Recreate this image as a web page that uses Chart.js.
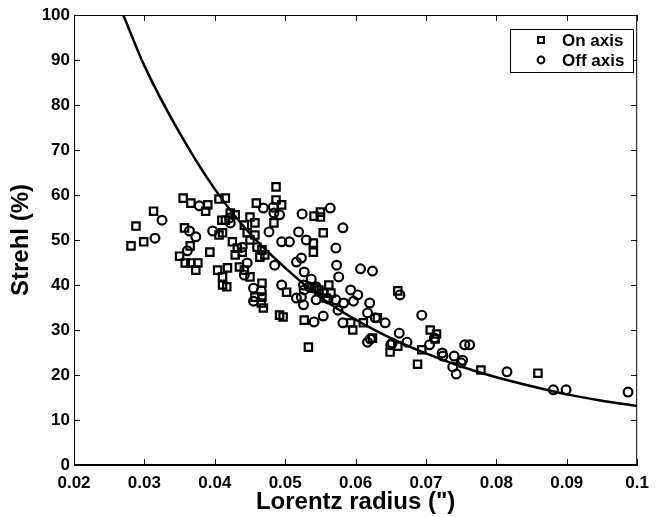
<!DOCTYPE html>
<html>
<head>
<meta charset="utf-8">
<script src="https://cdn.jsdelivr.net/npm/chart.js@4.4.1/dist/chart.umd.min.js"></script>
<style>
  html, body { margin: 0; padding: 0; background: #fff; }
</style>
</head>
<body>
<canvas id="myChart" width="657" height="517"></canvas>
<script>
// tick values
const xTicks = [0.02, 0.03, 0.04, 0.05, 0.06, 0.07, 0.08, 0.09, 0.1];
const xTickLabels = ['0.02', '0.03', '0.04', '0.05', '0.06', '0.07', '0.08', '0.09', '0.1'];
const yTicks = [0, 10, 20, 30, 40, 50, 60, 70, 80, 90, 100];

// On axis (squares)
const onAxisX = [0.0281, 0.0288, 0.0299, 0.0313, 0.0355, 0.0366, 0.0390, 0.0387, 0.0406, 0.0410,
  0.0406, 0.0411, 0.0357, 0.0365, 0.0350, 0.0393, 0.0358, 0.0366, 0.0376, 0.0373,
  0.0404, 0.0411, 0.0411, 0.0415, 0.0422, 0.0429, 0.0415, 0.0450, 0.0457, 0.0442,
  0.0484, 0.0446, 0.0450, 0.0457, 0.0425, 0.0432, 0.0439, 0.0429, 0.0460, 0.0467,
  0.0471, 0.0464, 0.0435, 0.0442, 0.0450, 0.0418, 0.0467, 0.0487, 0.0487, 0.0495,
  0.0459, 0.0541, 0.0550, 0.0550, 0.0554, 0.0540, 0.0540, 0.0502, 0.0492, 0.0497,
  0.0527, 0.0593, 0.0596, 0.0611, 0.0624, 0.0533, 0.0649, 0.0660, 0.0631, 0.0660,
  0.0694, 0.0688, 0.0706, 0.0715, 0.0713, 0.0778, 0.0859, 0.0541, 0.0548, 0.0562,
  0.0565, 0.0555, 0.0558, 0.0417, 0.0457, 0.0467, 0.0466, 0.0469];
const onAxisY = [48.7, 53.1, 49.6, 56.4, 59.3, 58.2, 57.8, 56.4, 59.1, 54.4,
  51.1, 51.6, 52.7, 48.7, 46.4, 47.3, 44.9, 44.9, 44.9, 43.3,
  43.3, 41.8, 40.0, 59.3, 56.0, 55.6, 54.4, 55.1, 53.8, 53.3,
  53.8, 51.6, 50.0, 51.1, 49.6, 48.2, 47.3, 46.7, 48.4, 47.8,
  46.7, 46.2, 44.0, 43.3, 41.8, 43.8, 40.4, 61.8, 58.9, 57.8,
  58.2, 55.3, 56.2, 55.1, 51.6, 49.3, 47.3, 38.4, 33.3, 32.9,
  32.2, 31.6, 30.0, 31.6, 28.2, 26.2, 25.1, 38.7, 32.7, 26.4,
  25.6, 22.4, 30.0, 29.1, 28.0, 21.1, 20.4, 39.3, 38.9, 40.0,
  38.2, 38.2, 37.1, 39.6, 37.3, 37.3, 36.0, 34.9];

// Off axis (circles)
const offAxisX = [0.0325, 0.0315, 0.0378, 0.0364, 0.0373, 0.0397, 0.0361, 0.0483, 0.0469, 0.0492,
  0.0484, 0.0524, 0.0564, 0.0421, 0.0422, 0.0477, 0.0519, 0.0495, 0.0506, 0.0530,
  0.0439, 0.0446, 0.0485, 0.0516, 0.0523, 0.0527, 0.0442, 0.0572, 0.0573, 0.0576,
  0.0607, 0.0624, 0.0537, 0.0495, 0.0526, 0.0534, 0.0544, 0.0527, 0.0516, 0.0523,
  0.0526, 0.0544, 0.0561, 0.0572, 0.0575, 0.0583, 0.0593, 0.0603, 0.0597, 0.0620,
  0.0541, 0.0554, 0.0582, 0.0617, 0.0628, 0.0642, 0.0617, 0.0621, 0.0650, 0.0663,
  0.0694, 0.0662, 0.0652, 0.0673, 0.0705, 0.0723, 0.0724, 0.0740, 0.0752, 0.0750,
  0.0738, 0.0743, 0.0755, 0.0762, 0.0815, 0.0881, 0.0899, 0.0987, 0.0582, 0.0455,
  0.0455, 0.0466, 0.0712];
const offAxisY = [54.4, 50.4, 57.6, 52.0, 50.7, 52.0, 47.6, 57.3, 57.1, 55.6,
  56.0, 55.8, 57.1, 54.9, 53.8, 51.8, 51.8, 49.6, 49.6, 50.0,
  48.4, 44.9, 44.4, 45.1, 46.0, 42.9, 42.2, 48.2, 44.4, 41.8,
  43.6, 43.1, 41.3, 40.0, 40.0, 39.6, 39.6, 38.9, 37.1, 37.3,
  35.6, 36.7, 36.9, 36.7, 34.4, 36.0, 38.9, 37.8, 36.4, 36.0,
  31.8, 33.1, 31.6, 33.8, 32.7, 31.6, 27.3, 28.0, 26.7, 37.8,
  33.3, 29.3, 27.1, 27.3, 26.7, 24.9, 24.2, 24.2, 23.3, 22.7,
  21.8, 20.2, 26.7, 26.7, 20.7, 16.7, 16.7, 16.2, 52.7, 39.3,
  36.4, 38.7, 28.2];

// fitted curve
const fitX = [0.027, 0.030, 0.035, 0.040, 0.045, 0.050, 0.055, 0.060, 0.065, 0.070, 0.075, 0.080, 0.085, 0.090, 0.095, 0.100];
const fitY = [100, 88.7, 73.8, 61.3, 51.4, 43.8, 37.3, 32.3, 28.2, 24.8, 21.9, 19.5, 17.5, 15.7, 14.3, 13.1];

const pts = (xs, ys) => xs.map((v, i) => ({ x: v, y: ys[i] }));

// kotak luar + tick ke dalam seperti gaya matlab
const framePlugin = {
  id: 'frame',
  afterDatasetsDraw(chart) {
    const { ctx, chartArea: a, scales } = chart;
    ctx.save();
    ctx.strokeStyle = '#000';
    ctx.lineWidth = 1;
    ctx.strokeRect(a.left + 0.5, a.top + 0.5, a.right - a.left - 1, a.bottom - a.top - 1);
    ctx.beginPath();
    xTicks.forEach(v => {
      const px = Math.round(scales.x.getPixelForValue(v)) + 0.5;
      ctx.moveTo(px, a.bottom); ctx.lineTo(px, a.bottom - 6);
      ctx.moveTo(px, a.top); ctx.lineTo(px, a.top + 6);
    });
    yTicks.forEach(v => {
      const py = Math.round(scales.y.getPixelForValue(v)) + 0.5;
      ctx.moveTo(a.left, py); ctx.lineTo(a.left + 6, py);
      ctx.moveTo(a.right, py); ctx.lineTo(a.right - 6, py);
    });
    ctx.stroke();
    ctx.restore();
  }
};

// legenda dalam kotak di pojok kanan atas
const legendPlugin = {
  id: 'boxLegend',
  afterDraw(chart) {
    const { ctx } = chart;
    const bx = 510, by = 29, bw = 123, bh = 43;
    ctx.save();
    ctx.fillStyle = '#fff';
    ctx.fillRect(bx, by, bw, bh);
    ctx.strokeStyle = '#000';
    ctx.lineWidth = 1;
    ctx.strokeRect(bx + 0.5, by + 0.5, bw, bh);
    ctx.lineWidth = 2;
    ctx.font = 'bold 17px "Liberation Sans", Arial, sans-serif';
    ctx.fillStyle = '#000';
    ctx.textBaseline = 'middle';
    const rows = [by + 11, by + 31];
    chart.data.datasets.slice(0, 2).forEach((ds, i) => {
      const cy = rows[i];
      const cx = 541;
      ctx.beginPath();
      if (ds.pointStyle === 'rect') {
        ctx.rect(cx - 3, cy - 3, 6, 6);
      } else {
        ctx.arc(cx, cy, 3.4, 0, Math.PI * 2);
      }
      ctx.stroke();
      ctx.fillText(ds.label, 562, cy + 1);
    });
    ctx.restore();
  }
};

const ctx = document.getElementById('myChart').getContext('2d');
const myChart = new Chart(ctx, {
  type: 'scatter',
  data: {
    datasets: [
      {
        label: 'On axis',
        data: pts(onAxisX, onAxisY),
        pointStyle: 'rect',
        pointRadius: 5.2,
        borderColor: '#000',
        backgroundColor: 'rgba(0,0,0,0)',
        pointBorderWidth: 2.2
      },
      {
        label: 'Off axis',
        data: pts(offAxisX, offAxisY),
        pointStyle: 'circle',
        pointRadius: 4.4,
        borderColor: '#000',
        backgroundColor: 'rgba(0,0,0,0)',
        pointBorderWidth: 2.2
      },
      {
        label: 'fit',
        data: pts(fitX, fitY),
        showLine: true,
        pointRadius: 0,
        borderColor: '#000',
        borderWidth: 2.5,
        cubicInterpolationMode: 'monotone',
        fill: false
      }
    ]
  },
  options: {
    responsive: false,
    animation: false,
    devicePixelRatio: 1,
    layout: { padding: { top: 15, right: 11, left: 0, bottom: 0 } },
    plugins: {
      legend: { display: false },
      tooltip: { enabled: false }
    },
    scales: {
      x: {
        type: 'linear',
        min: 0.02,
        max: 0.1,
        afterFit: s => { s.height = 52; },
        afterBuildTicks: s => { s.ticks = xTicks.map(v => ({ value: v })); },
        grid: { drawOnChartArea: false, drawTicks: false },
        border: { display: true, color: '#000', width: 1 },
        ticks: {
          padding: 8,
          color: '#000',
          maxRotation: 0,
          autoSkip: false,
          font: { family: '"Liberation Sans", Arial, sans-serif', size: 17, weight: 'bold' },
          callback: (v) => xTickLabels[xTicks.findIndex(t => Math.abs(t - v) < 1e-9)]
        },
        title: {
          display: true,
          text: 'Lorentz radius (")',
          color: '#000',
          padding: { top: 0, bottom: 0 },
          font: { family: '"Liberation Sans", Arial, sans-serif', size: 24, weight: 'bold' }
        }
      },
      y: {
        type: 'linear',
        min: 0,
        max: 100,
        afterFit: s => { s.width = 74; },
        afterBuildTicks: s => { s.ticks = yTicks.map(v => ({ value: v })); },
        grid: { drawOnChartArea: false, drawTicks: false },
        border: { display: true, color: '#000', width: 1 },
        ticks: {
          padding: 4,
          color: '#000',
          autoSkip: false,
          font: { family: '"Liberation Sans", Arial, sans-serif', size: 17, weight: 'bold' }
        },
        title: {
          display: true,
          text: 'Strehl (%)',
          color: '#000',
          padding: { top: 7, bottom: 0 },
          font: { family: '"Liberation Sans", Arial, sans-serif', size: 24, weight: 'bold' }
        }
      }
    }
  },
  plugins: [framePlugin, legendPlugin]
});
</script>
</body>
</html>
